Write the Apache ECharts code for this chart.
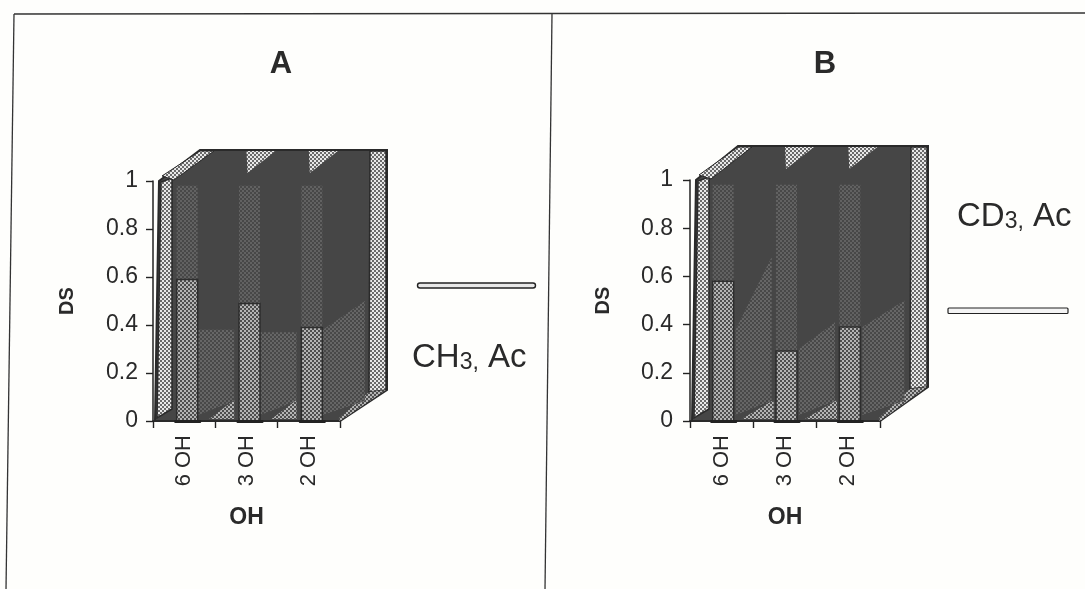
<!DOCTYPE html>
<html><head><meta charset="utf-8">
<style>html,body{margin:0;padding:0;background:#fefefc}#c{width:1085px;height:589px}</style>
<script src="https://cdn.jsdelivr.net/npm/echarts@6/dist/echarts.min.js"></script>
</head><body><div id="c"></div>
<script>
var categories = ['6 OH', '3 OH', '2 OH'];
var yTicks = [0, 0.2, 0.4, 0.6, 0.8, 1];
var frontA = [0.59, 0.49, 0.39];
var frontB = [0.58, 0.29, 0.39];
var backA = [0.98, 0.98, 0.98];
var backB = [0.98, 0.98, 0.98];
var midLowA = [0.38, 0.37, 0.38];
var midHighA = [0.38, 0.37, 0.5];
var midLowB = [0.38, 0.30, 0.39];
var midHighB = [0.68, 0.41, 0.5];

function dither(fg, bg, s) {
  var c = document.createElement('canvas');
  c.width = s * 2; c.height = s * 2;
  var g = c.getContext('2d');
  g.fillStyle = bg; g.fillRect(0, 0, s * 2, s * 2);
  g.fillStyle = fg;
  g.fillRect(0, 0, s, s);
  g.fillRect(s, s, s, s);
  return { image: c, repeat: 'repeat' };
}
var light = dither('#6a6a6a', '#e8e8e8', 2);
var barFill = dither('#4e4e4e', '#b4b4b4', 2);
var ghost = dither('#626262', '#484848', 2);
var mid = dither('#666666', '#484848', 2);
var dark = '#464646';

function frameSeries(i, dx, dy, low, high, fx0, fx1) {
  return {
    type: 'custom', xAxisIndex: i, yAxisIndex: i, silent: true, z: 1,
    data: [0], clip: false,
    renderItem: function (p, api) {
      var sz = api.size([1, 0]);
      var o = api.coord([0, 0]), t = api.coord([0, 1]);
      var w = sz[0] * 3;
      var x0 = o[0] - sz[0] / 2, x1 = x0 + w, y0 = o[1], y1 = t[1];
      var kids = [];
      function poly(pts, fill, extra) {
        kids.push({ type: 'polygon', shape: { points: pts }, style: Object.assign({ fill: fill, stroke: '#2a2a2a', lineWidth: 1 }, extra || {}) });
      }
      poly([[x0 + 2, y0], [x0 + 6, y1], [x0 + dx, y1 + dy], [x1 + dx, y1 + dy], [x1 + dx, y0 + dy], [x1, y0]], dark, { lineWidth: 2 });
      poly([[x0 + 4, y0 - 3], [x0 + 8, y1 + 1], [x0 + 19, y1 - 3], [x0 + 19, y0 - 12]], light, { lineWidth: 1.5 });
      poly([[x0 + 9, y1 - 5], [x0 + dx, y1 + dy + 1], [x0 + dx + 14, y1 + dy + 1], [x0 + 21, y1 - 1]], light);
      poly([[x1 + dx - 17, y1 + dy + 1], [x1 + dx - 1, y1 + dy + 1], [x1 + dx - 1, y0 + dy], [x1 + dx - 18, y0 + dy + 2]], light, { lineWidth: 1.5 });
      poly([[x1 - 2, y0 - 2], [x1 + dx - 18, y0 + dy + 2], [x1 + dx - 1, y0 + dy], [x1, y0]], barFill, { stroke: 'none' });
      for (var m = 0; m < 3; m++) {
        var c = api.coord([m, 0])[0];
        var yl = api.coord([m, low[m]])[1], yh = api.coord([m, high[m]])[1];
        var mr = m === 2 ? 56 : 50;
        poly([[c + 14, y0 - 6], [c + 14, yl], [c + mr, yh], [c + mr, y0 - 20]], mid, { stroke: 'none' });
        if (m < 2) {
          poly([[c + fx0, y0 - 2], [c + fx1, y0 - 21], [c + fx1, y0 - 2]], barFill, { stroke: 'none' });
        }
        if (m > 0) {
          poly([[c, y1 + dy + 1], [c + 29, y1 + dy + 1], [c + 1, y1 + dy + 23]], light, { stroke: 'none' });
        }
      }
      return { type: 'group', children: kids };
    }
  };
}
function barSeries(i, d, fill, z, solid, shift) {
  return {
    type: 'custom', xAxisIndex: i, yAxisIndex: i, silent: true, z: z, clip: false,
    data: d.map(function (v, k) { return [k, v]; }),
    renderItem: function (p, api) {
      var a = api.coord([api.value(0), api.value(1)]), b = api.coord([api.value(0), 0]);
      var kids = [{ type: 'rect', shape: { x: a[0] + shift - 10.5, y: a[1], width: 21, height: b[1] - a[1] },
        style: { fill: fill, stroke: solid ? '#2e2e2e' : 'none', lineWidth: 1.5 } }];
      if (solid) kids.push({ type: 'rect', shape: { x: a[0] + shift - 13, y: b[1] - 1, width: 27, height: 3, r: 1 }, style: { fill: '#222' } });
      return { type: 'group', children: kids };
    }
  };
}
var chart = echarts.init(document.getElementById('c'), null, { renderer: 'canvas' });
function xAxis(i) {
  return {
    gridIndex: i, type: 'category', data: categories, name: 'OH', nameLocation: 'middle', nameGap: 85,
    nameTextStyle: { fontFamily: 'Liberation Sans', fontWeight: 'bold', fontSize: 23, color: '#2a2a2a' },
    axisTick: { show: true, alignWithLabel: false, length: 7, lineStyle: { color: '#222', width: 1.4 } },
    axisLine: { onZero: false, lineStyle: { color: '#222', width: 1.5 } },
    axisLabel: { rotate: 90, margin: 14, fontFamily: 'Liberation Sans', fontSize: 22, color: '#2a2a2a' }
  };
}
function yAxis(i, gap, margin) {
  return {
    gridIndex: i, type: 'value', min: 0, max: 1, interval: 0.2, name: 'DS', nameLocation: 'middle', nameGap: gap,
    nameTextStyle: { fontFamily: 'Liberation Sans', fontWeight: 'bold', fontSize: 20, color: '#2a2a2a' },
    splitLine: { show: false },
    axisTick: { show: true, length: 7, lineStyle: { color: '#222', width: 1.4 } },
    axisLine: { show: true, lineStyle: { color: '#222', width: 1.5 } },
    axisLabel: { margin: margin, padding: [6, 0, 0, 0], fontFamily: 'Liberation Sans', fontSize: 23, color: '#2a2a2a',
      formatter: function (v) { return yTicks.indexOf(v) >= 0 ? String(v) : ''; } }
  };
}
function subLabel(x, y, a, b, c) {
  return { type: 'text', x: x, y: y, z: 10, style: {
    rich: { m: { fontSize: 33, fontFamily: 'Liberation Sans', fill: '#2a2a2a' }, s: { fontSize: 23, fontFamily: 'Liberation Sans', fill: '#2a2a2a', verticalAlign: 'bottom' } },
    text: '{m|' + a + '}{s|' + b + '}{m|' + c + '}' } };
}
function heading(t, x) {
  return { type: 'text', x: x, y: 64, z: 10, style: { text: t, align: 'center', verticalAlign: 'middle', fontFamily: 'Liberation Sans', fontWeight: 'bold', fontSize: 31, fill: '#2a2a2a' } };
}
function rule(pts) {
  return { type: 'polyline', z: 10, shape: { points: pts }, style: { stroke: '#333', lineWidth: 1.3, fill: 'none' } };
}
chart.setOption({
  animation: false,
  backgroundColor: '#fefefc',
  grid: [
    { left: 153, top: 181, width: 187, height: 240 },
    { left: 690, top: 180, width: 190, height: 241 }
  ],
  xAxis: [xAxis(0), xAxis(1)],
  yAxis: [yAxis(0, 76, 15), yAxis(1, 77, 17)],
  series: [
    frameSeries(0, 47, -31, midLowA, midHighA, 25, 50),
    barSeries(0, backA, ghost, 2, false, 3),
    barSeries(0, frontA, barFill, 3, true, 3),
    frameSeries(1, 48, -34, midLowB, midHighB, 20, 52),
    barSeries(1, backB, ghost, 2, false, 1.5),
    barSeries(1, frontB, barFill, 3, true, 1.5)
  ],
  graphic: [
    rule([[14, 14], [1085, 13]]),
    rule([[14, 14], [6, 589]]),
    rule([[552, 14], [545, 589]]),
    { type: 'rect', z: 10, shape: { x: 417.5, y: 283, width: 118, height: 5, r: 2.5 }, style: { fill: '#e8e8e8', stroke: '#222', lineWidth: 1.4 } },
    { type: 'rect', z: 10, shape: { x: 948, y: 308, width: 120, height: 5.5, r: 1 }, style: { fill: '#f4f4f4', stroke: '#222', lineWidth: 1.2 } },
    heading('A', 281),
    heading('B', 825),
    subLabel(412, 341, 'CH', '3,', ' Ac'),
    subLabel(957, 200, 'CD', '3,', ' Ac')
  ]
});
</script></body></html>
